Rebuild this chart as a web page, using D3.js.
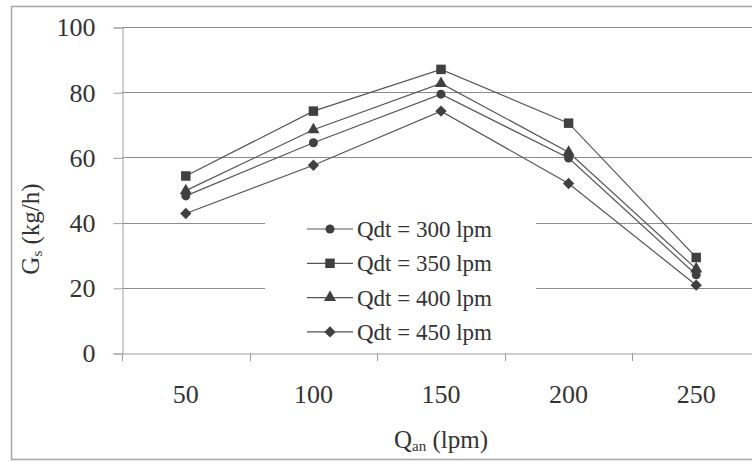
<!DOCTYPE html>
<html>
<head>
<meta charset="utf-8">
<script src="https://d3js.org/d3.v7.min.js"></script>
<style>
html,body{margin:0;padding:0;background:#fff;}
svg{display:block;}
</style>
</head>
<body>
<svg id="c" width="752" height="462"></svg>
<script>
const categories = ["50","100","150","200","250"];
const seriesNames = ["Qdt = 300 lpm","Qdt = 350 lpm","Qdt = 400 lpm","Qdt = 450 lpm"];
const q300 = [48.2, 64.5, 79.4, 59.8, 24.0];
const q350 = [54.3, 74.2, 87.0, 70.5, 29.3];
const q400 = [49.8, 68.5, 82.7, 61.6, 25.8];
const q450 = [42.8, 57.6, 74.2, 52.0, 20.8];
const yTicks = [0,20,40,60,80,100];
const xTitle = "Q";
const xTitleSub = "an";
const yTitle = "G";
const yTitleSub = "s";

const FONT = "'Liberation Serif'";
const seriesValues = [q300, q350, q400, q450];
const diamondSym = {
  draw(ctx, size) {
    const r = Math.sqrt(size / 2);
    ctx.moveTo(0, -r); ctx.lineTo(r, 0); ctx.lineTo(0, r); ctx.lineTo(-r, 0); ctx.closePath();
  }
};
const symbols = [d3.symbolCircle, d3.symbolSquare, d3.symbolTriangle, diamondSym];
const symSizes = [64, 90, 64, 64];

const svg = d3.select("#c").style("font-family", FONT);
const L = 122, R = 760, T = 27, B = 353;

svg.append("rect").attr("x",11.5).attr("y",6.5).attr("width",760).attr("height",453)
  .attr("fill","#fff").attr("stroke","#a6a6a6").attr("stroke-width",1.5);

const x = d3.scaleBand().domain(categories).range([L,R]);
const y = d3.scaleLinear().domain([0,100]).range([B,T]);

svg.append("g").selectAll("line").data(yTicks.filter(d=>d>0)).join("line")
  .attr("x1",L).attr("x2",R).attr("y1",d=>Math.round(y(d))+0.5).attr("y2",d=>Math.round(y(d))+0.5)
  .attr("stroke","#8c8c8c").attr("stroke-width",1);

// legend background
svg.append("rect").attr("x",265).attr("y",208).attr("width",271).attr("height",138).attr("fill","#fff");

const yAxis = d3.axisLeft(y).tickValues(yTicks).tickSize(9).tickPadding(18);
const gy = svg.append("g").attr("transform",`translate(${L+0.5},0.5)`).call(yAxis);
gy.attr("font-family", FONT);
gy.select(".domain").attr("stroke","#a0a0a0");
gy.selectAll(".tick line").attr("stroke","#a0a0a0");
gy.selectAll(".tick text").attr("font-size",26).style("font-family",FONT).attr("fill","#333");

const xAxis = d3.axisBottom(x).tickSize(0).tickPadding(31);
const gx = svg.append("g").attr("transform",`translate(0,${B+0.5})`).call(xAxis);
gx.attr("font-family", FONT);
gx.select(".domain").attr("stroke","#a0a0a0");
gx.selectAll(".tick text").attr("font-size",26).style("font-family",FONT).attr("fill","#333");
const bounds = categories.map(c=>x(c)).concat([x(categories[categories.length-1])+x.bandwidth()]);
svg.append("g").selectAll("line").data(bounds).join("line")
  .attr("x1",d=>Math.round(d)+0.5).attr("x2",d=>Math.round(d)+0.5).attr("y1",B).attr("y2",B+8)
  .attr("stroke","#a0a0a0");

const cx = c => x(c) + x.bandwidth()/2;
const line = d3.line().x((d,i)=>cx(categories[i])).y(d=>y(d));
seriesValues.forEach((vals,si)=>{
  svg.append("path").datum(vals).attr("d",line).attr("fill","none")
    .attr("stroke","#555").attr("stroke-width",1.2);
});
seriesValues.forEach((vals,si)=>{
  svg.append("g").selectAll("path").data(vals).join("path")
    .attr("d",d3.symbol().type(symbols[si]).size(symSizes[si]))
    .attr("transform",(d,i)=>`translate(${cx(categories[i])},${y(d)})`)
    .attr("fill","#404040");
});

const lg = svg.append("g");
seriesNames.forEach((name,i)=>{
  const ly = 229 + i*34.3;
  lg.append("line").attr("x1",307).attr("x2",353).attr("y1",ly).attr("y2",ly).attr("stroke","#555").attr("stroke-width",1.2);
  lg.append("path").attr("d",d3.symbol().type(symbols[i]).size(symSizes[i])())
    .attr("transform",`translate(330,${ly})`).attr("fill","#404040");
  lg.append("text").attr("x",357).attr("y",ly+8).attr("font-size",23).style("font-family",FONT).attr("fill","#333").text(name);
});

const xt = svg.append("text").attr("x",441).attr("y",448).attr("text-anchor","middle").attr("font-size",25).style("font-family",FONT).attr("fill","#333");
xt.append("tspan").text(xTitle);
xt.append("tspan").attr("font-size",15).attr("dy",3).text(xTitleSub);
xt.append("tspan").attr("dy",-3).text(" (lpm)");

const yt = svg.append("text").attr("transform","translate(39,229) rotate(-90)").attr("text-anchor","middle").attr("font-size",25).style("font-family",FONT).attr("fill","#333");
yt.append("tspan").text(yTitle);
yt.append("tspan").attr("font-size",15).attr("dy",3).text(yTitleSub);
yt.append("tspan").attr("dy",-3).text(" (kg/h)");
</script>
</body>
</html>
